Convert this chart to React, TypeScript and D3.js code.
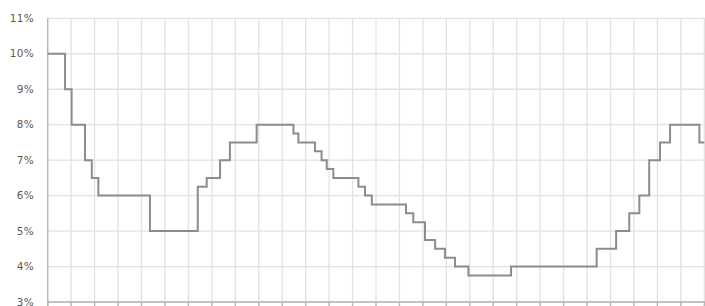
import React from "react";
import * as d3 from "d3";

// Step positions (in grid-interval units) and rate values (%)
const stepPositions = [0, 0.74, 1.02, 1.59, 1.88, 2.16, 4.36, 6.4, 6.78, 7.35, 7.77, 8.91, 10.48, 10.69, 11.4, 11.68, 11.9, 12.18, 13.25, 13.53, 13.82, 15.28, 15.59, 16.09, 16.52, 16.94, 17.37, 17.94, 19.76, 23.41, 24.24, 24.8, 25.23, 25.65, 26.11, 26.54, 27.79, 28];
const rateValues = [10, 9, 8, 7, 6.5, 6, 5, 6.25, 6.5, 7, 7.5, 8, 7.75, 7.5, 7.25, 7, 6.75, 6.5, 6.25, 6, 5.75, 5.5, 5.25, 4.75, 4.5, 4.25, 4, 3.75, 4, 4.5, 5, 5.5, 6, 7, 7.5, 8, 7.5, 7.5];
const yTicks = [3, 4, 5, 6, 7, 8, 9, 10, 11];
const xGridCount = 28;

const W = 705;
const H = 306;
const left = 47.7;
const right = 704.3;
const top = 18.3;
const bottom = 302;

export default function App() {
  const x = d3.scaleLinear().domain([0, xGridCount]).range([left, right]);
  const y = d3.scaleLinear().domain([3, 11]).range([bottom, top]);
  const data = stepPositions.map((p, i) => [p, rateValues[i]] as [number, number]);
  const line = d3
    .line<[number, number]>()
    .x((d) => x(d[0]))
    .y((d) => y(d[1]))
    .curve(d3.curveStepAfter);
  const xGrid = d3.range(0, xGridCount + 1);

  return (
    <svg
      width={W}
      height={H}
      style={{ position: "absolute", left: 0, top: 0, background: "#fff" }}
    >
      <rect x={0} y={0} width={W} height={H} fill="#fff" />
      {yTicks.map((t) => (
        <line key={"h" + t} x1={left} x2={right + 2} y1={y(t)} y2={y(t)} stroke="#e2e2e2" strokeWidth={1.3} />
      ))}
      {xGrid.map((k) => (
        <line key={"v" + k} x1={x(k)} x2={x(k)} y1={top} y2={H} stroke="#e2e2e2" strokeWidth={1.3} />
      ))}
      <line x1={left} x2={left} y1={top} y2={H} stroke="#b5b5b5" strokeWidth={1.3} />
      <line x1={left} x2={right + 2} y1={bottom} y2={bottom} stroke="#b5b5b5" strokeWidth={1.3} />
      {xGrid.map((k) => (
        <line key={"t" + k} x1={x(k)} x2={x(k)} y1={bottom} y2={H} stroke="#b5b5b5" strokeWidth={1.3} />
      ))}
      {yTicks.map((t) => (
        <text
          key={"l" + t}
          x={34}
          y={y(t)}
          dy="0.35em"
          textAnchor="end"
          fontFamily="DejaVu Sans, sans-serif"
          fontSize={10.5}
          letterSpacing={0.3}
          fill="#5a5a5a"
        >
          {t}%
        </text>
      ))}
      <path d={line(data) || ""} fill="none" stroke="#8c8c8c" strokeWidth={2} />
    </svg>
  );
}
